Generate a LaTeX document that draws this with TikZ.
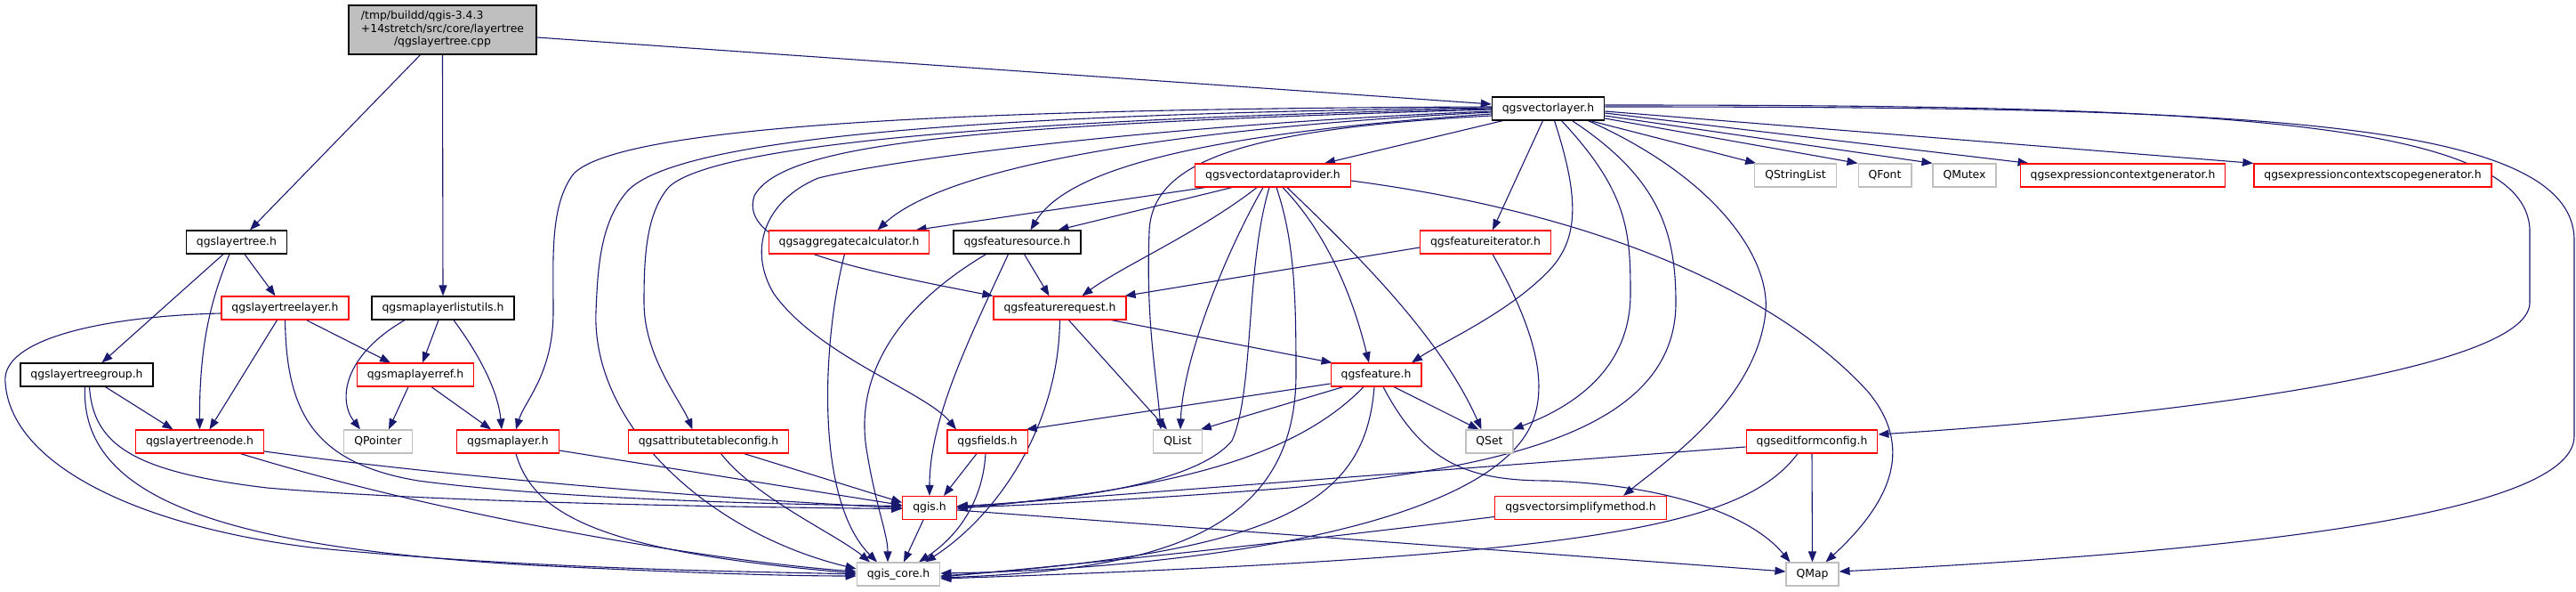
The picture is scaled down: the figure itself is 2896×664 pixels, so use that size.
\documentclass[tikz,border=0pt]{standalone}
\usepackage{fontspec}
\setmainfont{DejaVu Sans}
\usetikzlibrary{arrows.meta}
\definecolor{eb}{HTML}{191970}
\definecolor{gb}{HTML}{BFBFBF}
\pgfdeclarelayer{bg}
\pgfsetlayers{bg,main}
\tikzset{
  nb/.style={draw, line width=1.2pt, minimum height=26pt, inner xsep=11.5pt, inner ysep=0pt,
    font=\fontsize{12.4}{14.5}\selectfont, fill=white},
  blk/.style={nb, draw=black},
  rdb/.style={nb, draw=red},
  gyb/.style={nb, draw=gb},
  edg/.style={draw=eb, line width=1.1pt, -{Triangle[length=12pt,width=9pt]}, fill=none},
}
\begin{document}
\begin{tikzpicture}[x=1pt,y=-1pt]
\useasboundingbox (0,0) rectangle (2896,664);
% nodes
\node[nb, draw=black, fill=gb, minimum width=211pt, minimum height=55pt] (root) at (497.5,33.5)
  {\begin{tabular}{@{}c@{}}\multicolumn{1}{@{}l@{}}{/tmp/buildd/qgis-3.4.3}\\+14stretch/src/core/layertree\\/qgslayertree.cpp\end{tabular}};
\node[blk] (lt) at (266,272) {qgslayertree.h};
\node[rdb] (ltl) at (320.5,346) {qgslayertreelayer.h};
\node[blk] (mllu) at (498,346) {qgsmaplayerlistutils.h};
\node[blk] (ltg) at (97.5,421) {qgslayertreegroup.h};
\node[rdb] (mlr) at (467,421) {qgsmaplayerref.h};
\node[rdb] (ltn) at (224.5,496) {qgslayertreenode.h};
\node[gyb] (qptr) at (425,496) {QPointer};
\node[rdb] (ml) at (571,496) {qgsmaplayer.h};
\node[rdb] (atc) at (796.5,496) {qgsattributetableconfig.h};
\node[gyb] (core) at (1010,645) {qgis\_core.h};
\node[rdb] (agg) at (954.5,272) {qgsaggregatecalculator.h};
\node[blk] (vl) at (1740.5,122) {qgsvectorlayer.h};
\node[rdb] (vdp) at (1431,197) {qgsvectordataprovider.h};
\node[blk] (fs) at (1143.5,272) {qgsfeaturesource.h};
\node[rdb] (fi) at (1670,272) {qgsfeatureiterator.h};
\node[rdb] (fr) at (1191.5,346) {qgsfeaturerequest.h};
\node[gyb] (qsl) at (2018.5,197) {QStringList};
\node[gyb] (qfont) at (2119,197) {QFont};
\node[gyb] (qmutex) at (2208.5,197) {QMutex};
\node[rdb] (ecg) at (2386.5,197) {qgsexpressioncontextgenerator.h};
\node[rdb] (ecsg) at (2667.5,197) {qgsexpressioncontextscopegenerator.h};
\node[rdb] (feat) at (1547,421) {qgsfeature.h};
\node[rdb] (fields) at (1110,496) {qgsfields.h};
\node[gyb] (qlist) at (1324,496) {QList};
\node[gyb] (qset) at (1674.5,496) {QSet};
\node[rdb] (efc) at (2037,496) {qgseditformconfig.h};
\node[rdb] (qgis) at (1045,570.5) {qgis.h};
\node[rdb] (vsm) at (1777,570.5) {qgsvectorsimplifymethod.h};
\node[gyb] (qmap) at (2037.5,645) {QMap};
% edges
\begin{pgfonlayer}{bg}
\path[edg] ([xshift=-25pt]root.south) -- ([xshift=15pt]lt.north);
\path[edg] (root.south) -- (mllu.north);
\path[edg] ([yshift=-8.5pt]root.east) -- ([yshift=5pt]vl.west);
\path[edg] ([xshift=9pt]lt.south) -- ([xshift=-11pt]ltl.north);
\path[edg] ([xshift=-15pt]lt.south) -- ([xshift=17pt]ltg.north);
\path[edg] ([xshift=-8pt]lt.south) .. controls (240,330) and (224,380) .. (ltn.north);
\path[edg] ([xshift=-9pt]ltl.south) -- ([xshift=11pt]ltn.north);
\path[edg] ([xshift=24pt]ltl.south) -- ([xshift=-28pt]mlr.north);
\path[edg] (ltl.south) .. controls (322,460) and (350,520) .. (470,540) .. controls (620,560) and (850,566) .. ([yshift=2pt]qgis.west);
\path[edg] ([yshift=-6pt]ltl.west) .. controls (120,355) and (0,380) .. (6,430) .. controls (12,520) and (150,590) .. (350,615) .. controls (600,640) and (850,642) .. (core.west);
\path[edg] ([xshift=-43pt]mllu.south) .. controls (385,400) and (380,450) .. ([xshift=-20pt]qptr.north);
\path[edg] ([xshift=-5pt]mllu.south) -- ([xshift=8pt]mlr.north);
\path[edg] ([xshift=12pt]mllu.south) .. controls (540,400) and (560,440) .. ([xshift=-7pt]ml.north);
\path[edg] ([xshift=21pt]ltg.south) -- ([xshift=-30pt]ltn.north);
\path[edg] ([xshift=3pt]ltg.south) .. controls (105,500) and (150,530) .. (300,548) .. controls (500,565) and (850,570) .. ([yshift=-1pt]qgis.west);
\path[edg] ([xshift=-2pt]ltg.south) .. controls (90,560) and (250,615) .. (600,635) .. controls (800,645) and (900,647) .. ([yshift=-2pt]core.west);
\path[edg] ([xshift=-8pt]mlr.south) -- ([xshift=12pt]qptr.north);
\path[edg] ([xshift=18pt]mlr.south) -- ([xshift=-19pt]ml.north);
\path[edg] ([yshift=-11pt]ltn.east) .. controls (500,535) and (800,560) .. (qgis.west);
\path[edg] ([xshift=46pt]ltn.south) .. controls (500,580) and (800,630) .. ([yshift=3pt]core.west);
\path[edg] ([yshift=-10pt]ml.east) -- ([yshift=3pt]qgis.west);
\path[edg] ([xshift=9pt]ml.south) .. controls (600,580) and (680,620) .. ([yshift=1pt]core.west);
\path[edg] ([xshift=40pt]atc.south) -- ([yshift=6pt]qgis.west);
\path[edg] ([xshift=14pt]atc.south) .. controls (850,560) and (940,600) .. ([xshift=-32pt]core.north);
\path[edg] ([xshift=-5pt]agg.south) .. controls (925,380) and (915,560) .. ([xshift=-24pt]core.north);
\path[edg] ([xshift=8pt]fs.south) -- ([xshift=-12pt]fr.north);
\path[edg] ([xshift=-10pt]fs.south) .. controls (1090,380) and (1045,470) .. (qgis.north);
\path[edg] ([xshift=-35pt]fs.south) .. controls (1000,350) and (960,430) .. (975,510) .. controls (985,570) and (998,600) .. ([xshift=-12pt]core.north);
\path[edg] ([yshift=-6pt]fi.west) -- ([xshift=-2pt]fr.north east);
\path[edg] ([xshift=8pt]fi.south) .. controls (1720,360) and (1745,430) .. (1720,480) .. controls (1660,600) and (1300,640) .. ([yshift=1pt]core.east);
\path[edg] ([xshift=58pt]fr.south) -- ([xshift=2pt]feat.north west);
\path[edg] ([xshift=10pt]fr.south) -- ([xshift=-12pt]qlist.north);
\path[edg] (fr.south) .. controls (1190,480) and (1120,580) .. ([xshift=30pt]core.north);
\path[edg] ([yshift=-10pt]feat.west) -- ([xshift=-2pt]fields.north east);
\path[edg] ([xshift=-37pt]feat.south) -- ([xshift=-2pt]qlist.north east);
\path[edg] ([xshift=20pt]feat.south) -- ([xshift=-12pt]qset.north);
\path[edg] ([xshift=-14pt]feat.south) .. controls (1450,520) and (1300,550) .. ([yshift=-1pt]qgis.east);
\path[edg] ([xshift=-2pt]feat.south) .. controls (1535,560) and (1450,620) .. ([yshift=-2pt]core.east);
\path[edg] ([xshift=8pt]feat.south) .. controls (1600,520) and (1650,540) .. (1740,540) .. controls (1880,545) and (1970,580) .. ([xshift=-25pt]qmap.north);
\path[edg] ([xshift=-12pt]fields.south) -- ([xshift=16pt]qgis.north);
\path[edg] ([xshift=-2pt]fields.south) .. controls (1105,560) and (1080,600) .. ([xshift=23pt]core.north);
\path[edg] ([xshift=-7pt]qgis.south) -- ([xshift=6pt]core.north);
\path[edg] ([yshift=-2.5pt]qgis.east) -- ([yshift=3pt]qmap.west);
\path[edg] ([yshift=-10pt]vsm.west) .. controls (1400,615) and (1200,635) .. ([yshift=-3pt]core.east);
\path[edg] ([yshift=-6pt]efc.west) -- ([yshift=1pt]qgis.east);
\path[edg] ([xshift=-16pt]efc.south) .. controls (1960,590) and (1800,625) .. ([yshift=-5pt]core.east);
\path[edg] (efc.south) -- (qmap.north);
\path[edg] ([xshift=-76pt]vdp.south) -- ([xshift=75pt]agg.north);
\path[edg] ([xshift=-46pt]vdp.south) -- ([xshift=46pt]fs.north);
\path[edg] ([xshift=-18pt]vdp.south) .. controls (1350,260) and (1260,300) .. ([xshift=25pt]fr.north);
\path[edg] ([xshift=-11pt]vdp.south) .. controls (1380,280) and (1330,400) .. ([xshift=3pt]qlist.north);
\path[edg] ([xshift=-4pt]vdp.south) .. controls (1400,300) and (1410,440) .. (1385,495) .. controls (1340,550) and (1160,565) .. ([yshift=2pt]qgis.east);
\path[edg] ([xshift=4pt]vdp.south) .. controls (1455,270) and (1457,330) .. (1457,420) .. controls (1457,600) and (1300,640) .. ([yshift=-4pt]core.east);
\path[edg] ([xshift=11pt]vdp.south) .. controls (1490,260) and (1520,330) .. ([xshift=-8pt]feat.north);
\path[edg] ([xshift=16pt]vdp.south) .. controls (1530,290) and (1620,380) .. ([xshift=-9pt]qset.north);
\path[edg] ([yshift=-6pt]vdp.east) .. controls (1800,240) and (2000,330) .. (2100,440) .. controls (2150,500) and (2130,560) .. ([xshift=15pt]qmap.north);
\path[edg] ([xshift=-51pt]vl.south) -- ([xshift=58pt]vdp.north);
\path[edg] ([xshift=-6pt]vl.south) -- ([xshift=8pt]fi.north);
\path[edg] ([xshift=7pt]vl.south) .. controls (1775,220) and (1775,265) .. (1745,300) .. controls (1700,350) and (1620,385) .. ([xshift=40pt]feat.north);
\path[edg] ([xshift=15pt]vl.south) .. controls (1830,215) and (1833,260) .. (1833,330) .. controls (1833,420) and (1760,460) .. ([xshift=-1pt]qset.north east);
\path[edg] ([xshift=27pt]vl.south) .. controls (1865,200) and (1884,260) .. (1884,340) .. controls (1884,480) and (1700,525) .. (1450,548) .. controls (1300,560) and (1150,568) .. ([yshift=0.5pt]qgis.east);
\path[edg] ([xshift=45pt]vl.south) .. controls (1930,200) and (1990,290) .. (1985,350) .. controls (1975,450) and (1870,520) .. ([xshift=48pt]vsm.north);
\path[edg] ([xshift=47pt]vl.south) -- ([xshift=2pt]qsl.north west);
\path[edg] ([yshift=-11pt]vl.east) -- (qfont.north west);
\path[edg] ([yshift=-8pt]vl.east) -- (qmutex.north west);
\path[edg] ([yshift=-5pt]vl.east) -- ([xshift=10pt]ecg.north west);
\path[edg] ([yshift=-3pt]vl.east) -- (ecsg.north west);
\path[edg] ([yshift=4pt]vl.east) .. controls (2450,118) and (2844,130) .. (2844,260) -- (2844,340) .. controls (2844,420) and (2400,470) .. ([yshift=8pt]efc.east);
\path[edg] ([yshift=2pt]vl.east) .. controls (2500,120) and (2894,130) .. (2894,270) -- (2894,490) .. controls (2894,590) and (2400,625) .. ([yshift=3pt]qmap.east);
\path[edg] ([yshift=2pt]vl.west) .. controls (1100,122) and (700,140) .. (645,195) .. controls (618,230) and (622,290) .. (622,350) .. controls (622,420) and (590,450) .. ([xshift=9pt]ml.north);
\path[edg] ([yshift=1pt]vl.west) .. controls (1100,128) and (760,155) .. (705,215) .. controls (675,250) and (672,300) .. (670,350) .. controls (665,480) and (800,600) .. ([yshift=6pt]core.west);
\path[edg] (vl.west) .. controls (1100,135) and (800,165) .. (752,210) .. controls (726,240) and (724,290) .. (724,340) .. controls (724,400) and (765,450) .. ([xshift=-18pt]atc.north);
\path[edg] ([yshift=-1pt]vl.west) .. controls (1100,140) and (880,160) .. (848,220) .. controls (830,275) and (950,300) .. (fr.north west);
\path[edg] ([yshift=-3pt]vl.west) .. controls (1300,140) and (1000,180) .. (920,200) .. controls (860,225) and (840,280) .. (870,330) .. controls (920,400) and (1040,440) .. ([xshift=-35pt]fields.north);
\path[edg] ([yshift=-4pt]vl.west) .. controls (1300,145) and (1060,190) .. ([xshift=32pt]agg.north);
\path[edg] ([yshift=-6pt]vl.west) .. controls (1350,150) and (1200,190) .. ([xshift=15pt]fs.north);
\path[edg] ([yshift=-8pt]vl.west) .. controls (1400,145) and (1295,180) .. (1292,260) .. controls (1288,360) and (1300,420) .. ([xshift=-19pt]qlist.north);
\end{pgfonlayer}
\end{tikzpicture}
\end{document}
